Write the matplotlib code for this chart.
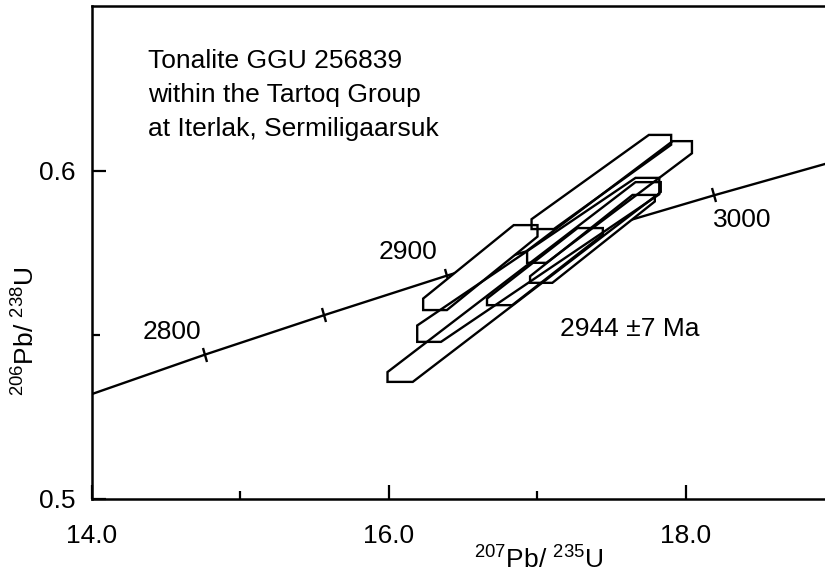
import numpy as np
import matplotlib
matplotlib.use('Agg')
import matplotlib.pyplot as plt
from matplotlib.markers import MarkerStyle
from matplotlib.patches import Polygon
from matplotlib.transforms import Affine2D

plt.rcParams['font.family'] = 'Liberation Sans'
plt.rcParams['mathtext.default'] = 'regular'

# concordia, read at the age marks
conc_age = [2750, 2800, 2850, 2900, 2950, 3000, 3050]
conc_x = [14.00, 14.76, 15.56, 16.39, 17.27, 18.19, 19.16]
conc_y = [0.5320, 0.5440, 0.5560, 0.5681, 0.5803, 0.5926, 0.6050]
tick_ages = [2800, 2850, 2900, 2950, 3000]

age_labels = ['2800', '2900', '3000']
age_label_x = [14.54, 16.13, 18.38]
age_label_y = [0.5509, 0.5753, 0.5851]

# error boxes (207Pb/235U range, 206Pb/238U range, corner cut)
box_x_lo = [15.99, 16.19, 16.23, 16.93, 16.96, 16.66, 16.95]
box_x_hi = [17.83, 17.82, 17.00, 18.04, 17.90, 17.44, 17.79]
box_y_lo = [0.5357, 0.5479, 0.5576, 0.5720, 0.5823, 0.5591, 0.5659]
box_y_hi = [0.5966, 0.5979, 0.5835, 0.6091, 0.6110, 0.5826, 0.5927]
box_cut_x = [0.17, 0.16, 0.16, 0.13, 0.15, 0.17, 0.15]
box_cut_y = [0.0030, 0.0050, 0.0035, 0.0037, 0.0030, 0.0020, 0.0020]

title_lines = ['Tonalite GGU 256839', 'within the Tartoq Group',
               'at Iterlak, Sermiligaarsuk']
title_y = [0.6314, 0.6210, 0.6107]

fig = plt.figure(figsize=(8.25, 5.83), dpi=100)
ax = fig.add_axes([0.1115, 0.1441, 0.8885, 0.8456])
ax.set_xlim(14.0, 18.936)
ax.set_ylim(0.5, 0.6503)

# concordia curve with age ticks
ax.plot(conc_x, conc_y, color='black', lw=1.7, zorder=2)
pts = ax.transData.transform(np.column_stack([conc_x, conc_y]))
for age in tick_ages:
    i = conc_age.index(age)
    dx, dy = pts[i + 1] - pts[i - 1]
    ang = np.degrees(np.arctan2(dy, dx))
    m = MarkerStyle('|', transform=Affine2D().rotate_deg(ang))
    ax.plot(conc_x[i], conc_y[i], marker=m, ms=10, mew=1.7, color='black', zorder=2)

for txt, x, y in zip(age_labels, age_label_x, age_label_y):
    ax.text(x, y, txt, ha='center', va='center', fontsize=19)

# error boxes: white underlay hides the concordia, outlines all stay visible
boxes = []
for xl, xh, yl, yh, cx, cy in zip(box_x_lo, box_x_hi, box_y_lo, box_y_hi, box_cut_x, box_cut_y):
    boxes.append([(xl, yl), (xl + cx, yl), (xh, yh - cy), (xh, yh), (xh - cx, yh), (xl, yl + cy)])
for verts in boxes:
    ax.add_patch(Polygon(verts, closed=True, facecolor='white', edgecolor='none', zorder=3))
for verts in boxes:
    ax.add_patch(Polygon(verts, closed=True, facecolor='none', edgecolor='black',
                         lw=1.7, joinstyle='miter', zorder=4))

ax.text(17.62, 0.5518, '2944 \u00b17 Ma', ha='center', va='center', fontsize=19)

for line, y in zip(title_lines, title_y):
    ax.text(14.377, y, line, ha='left', va='baseline', fontsize=19)

# axes
ax.set_xticks([14, 16, 18])
ax.set_xticklabels(['14.0', '16.0', '18.0'])
ax.set_xticks([15, 17], minor=True)
ax.set_yticks([0.5, 0.6])
ax.set_yticklabels(['0.5', '0.6'])
ax.set_yticks([0.55], minor=True)
ax.tick_params(which='both', direction='in', top=False, right=False, width=1.6)
ax.tick_params(which='major', length=10, labelsize=19)
ax.tick_params(which='minor', length=6)
ax.tick_params(axis='x', which='major', pad=18)
ax.tick_params(axis='y', which='major', pad=12)
ax.spines['right'].set_visible(False)
for s in ['left', 'bottom', 'top']:
    ax.spines[s].set_linewidth(1.8)

ax.set_xlabel(r'$^{207}$Pb/ $^{235}$U', fontsize=19)
ax.xaxis.set_label_coords(0.61, -0.096)
ax.set_ylabel(r'$^{206}$Pb/ $^{238}$U', fontsize=19)
ax.yaxis.set_label_coords(-0.072, 0.34)

fig.savefig('out.png', dpi=100)
